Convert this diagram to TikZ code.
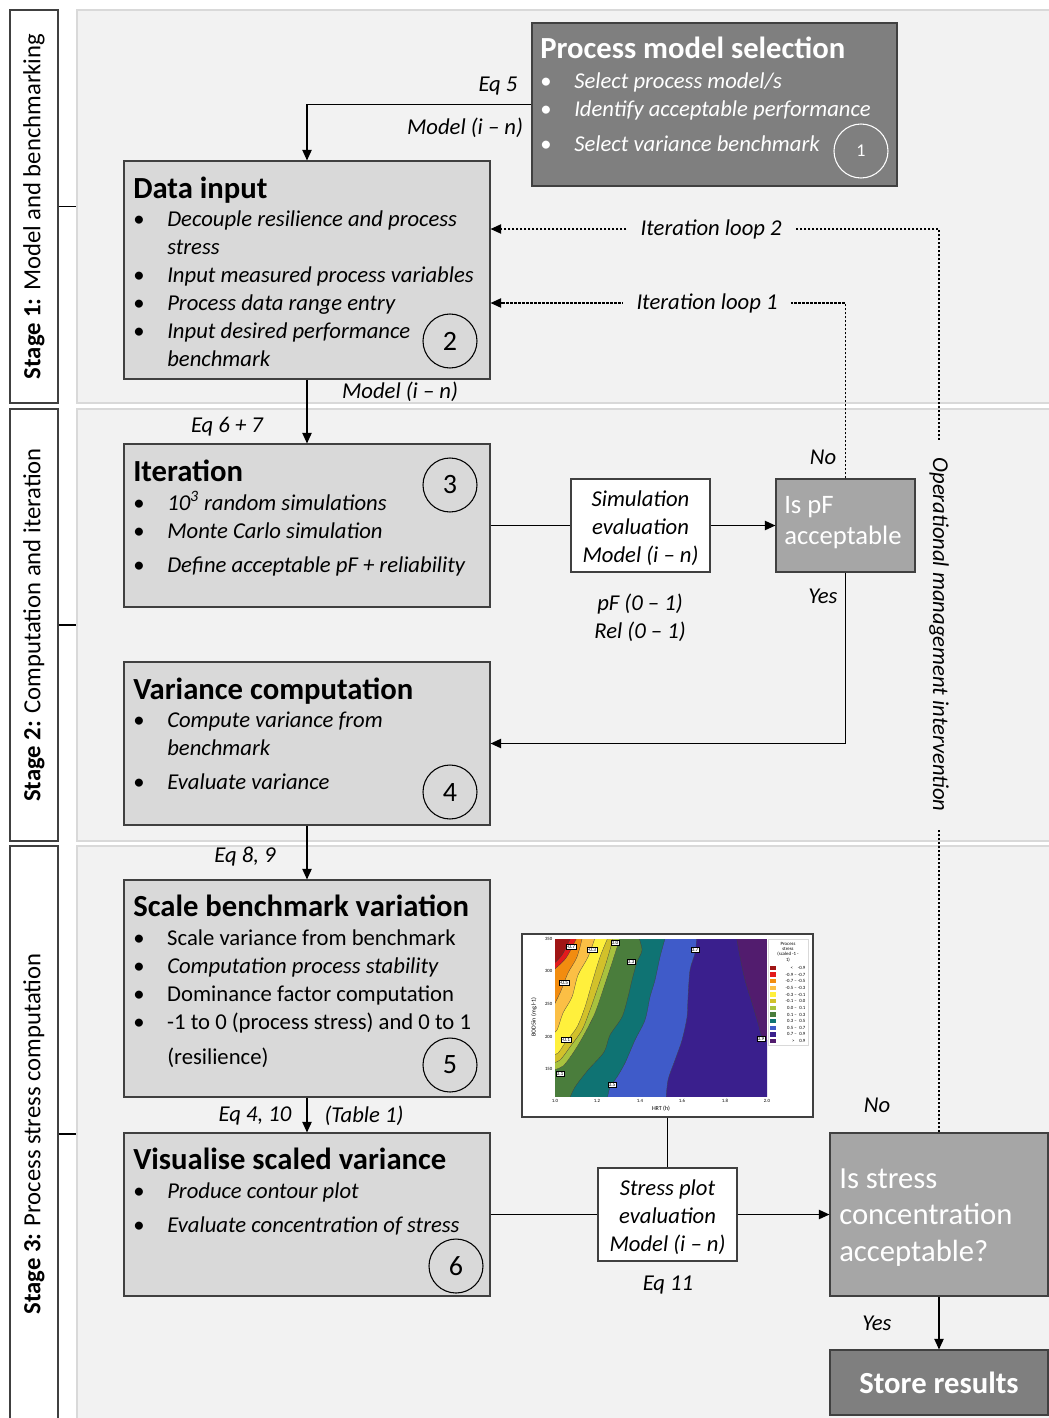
\documentclass[tikz,border=0pt]{standalone}
\usepackage{fontspec}
\setmainfont{Carlito}
\usetikzlibrary{arrows.meta,fit}

\definecolor{cPanel}{HTML}{F2F2F2}
\definecolor{cPanelLine}{HTML}{D9D9D9}
\definecolor{cBox}{HTML}{D9D9D9}
\definecolor{cLine}{HTML}{404040}
\definecolor{cDark}{HTML}{7F7F7F}
\definecolor{cMid}{HTML}{A6A6A6}
% contour plot colours
\definecolor{cDarkRed}{HTML}{A01515}
\definecolor{cRed}{HTML}{E31A1C}
\definecolor{cOrange}{HTML}{F28C0F}
\definecolor{cLtOrange}{HTML}{FBBF45}
\definecolor{cYellow}{HTML}{FFF03C}
\definecolor{cOlive}{HTML}{D2C12A}
\definecolor{cLtGreen}{HTML}{A8C23E}
\definecolor{cDkGreen}{HTML}{4A7D3C}
\definecolor{cTeal}{HTML}{0F7373}
\definecolor{cBlue}{HTML}{3F5BC9}
\definecolor{cIndigo}{HTML}{3A1F8D}
\definecolor{cPurple}{HTML}{521C6E}

\newcommand{\tlines}[1]{\begin{tabular}[t]{@{}l@{}}#1\end{tabular}}
\newcommand{\blist}[1]{\begin{tabular}[t]{@{}p{25.5pt}@{}l@{}}#1\end{tabular}}

\tikzset{
  panel/.style={draw=cPanelLine, fill=cPanel, line width=0.8pt, inner sep=0pt},
  stagebox/.style={draw=cLine, fill=white, line width=0.8pt, inner sep=0pt},
  stagetext/.style={rotate=90, inner sep=0pt, font=\fontsize{18.5}{22}\selectfont},
  procbox/.style={draw=cLine, fill=cBox, line width=0.8pt, inner sep=0pt},
  pmsbox/.style={procbox, fill=cDark},
  querybox/.style={procbox, fill=cMid},
  evalbox/.style={procbox, fill=white},
  evaltext/.style={inner sep=0pt, align=center, font=\fontsize{17}{21}\selectfont\itshape},
  storebox/.style={procbox, fill=cDark},
  storetext/.style={inner sep=0pt, text=white, font=\fontsize{23}{27}\selectfont\bfseries},
  headtext/.style={anchor=base west, inner sep=0pt, font=\fontsize{23}{27}\selectfont\bfseries},
  listtext/.style={anchor=base west, inner sep=0pt, font=\fontsize{17}{21}\selectfont},
  querytext/.style={anchor=base west, inner sep=0pt, text=white},
  lbl/.style={inner sep=0pt, font=\fontsize{17}{21}\selectfont\itshape},
  numcircle/.style={circle, draw=black, line width=0.8pt, minimum size=40.5pt, inner sep=0pt, font=\fontsize{21}{21}\selectfont},
  flow/.style={line width=1.1pt},
  loopline/.style={line width=1.1pt, dash pattern=on 2pt off 1pt},
  looplabel/.style={lbl, fill=cPanel, inner xsep=10pt, inner ysep=2pt},
  plotframe/.style={draw=cLine, fill=white, line width=0.8pt, inner sep=0pt},
  band/.style={fill=#1, draw=black!75, line width=0.2pt},
  tinytext/.style={inner sep=0.3pt, font=\fontsize{3.6}{4}\selectfont},
  clabel/.style={draw=black, fill=white, line width=0.2pt, inner sep=0.5pt, font=\fontsize{4}{4.5}\selectfont},
}

\begin{document}
\begin{tikzpicture}[x=0.75pt, y=-0.75pt, >={Triangle[length=8pt,width=7pt]}]
\useasboundingbox (0,0) rectangle (1049,1418);
\fill[white] (0,0) rectangle (1049,1418);

% stage panels and labels
\node[panel, fit={(77,10)(1052,403)}] (panel1) {};
\node[panel, fit={(77,409)(1052,841)}] (panel2) {};
\node[panel, fit={(77,846)(1052,1422)}] (panel3) {};
\node[stagebox, fit={(10,10)(58,403)}] (stage1) {};
\node[stagebox, fit={(10,409)(58,841)}] (stage2) {};
\node[stagebox, fit={(10,846)(58,1422)}] (stage3) {};
\node[stagetext] (stage1text) at (stage1) {\textbf{Stage 1:} Model and benchmarking};
\node[stagetext] (stage2text) at (stage2) {\textbf{Stage 2:} Computation and iteration};
\node[stagetext] (stage3text) at (stage3) {\textbf{Stage 3:} Process stress computation};
\draw[line width=0.8pt] (stage1.east) -- (panel1.west);
\draw[line width=0.8pt] (stage2.east) -- (panel2.west);
\draw[line width=0.8pt] (stage3.east) -- (panel3.west);

% process model selection
\node[pmsbox, fit={(532,23)(897,186)}] (pms) {};
\node[headtext, text=white] (pmstitle) at (540,58) {Process model selection};
\node[listtext, text=white] (pmslist) at (540,88) {\blist{%
  \textbullet & \textit{Select process model/s}\\
  \textbullet & \textit{Identify acceptable performance}\\[5.25pt]
  \textbullet & \textit{Select variance benchmark}}};
\node[numcircle, draw=white, text=white, font=\fontsize{13.5}{13.5}\selectfont] (num1) at (861,151) {1};

% data input
\node[procbox, fit={(124,161)(490,379)}] (datain) {};
\node[headtext] (dataintitle) at (133,198) {Data input};
\node[listtext] (datainlist) at (133,226) {\blist{%
  \textbullet & \textit{Decouple resilience and process}\\
   & \textit{stress}\\
  \textbullet & \textit{Input measured process variables}\\
  \textbullet & \textit{Process data range entry}\\
  \textbullet & \textit{Input desired performance}\\
   & \textit{benchmark}}};
\node[numcircle] (num2) at (450,341) {2};

% iteration
\node[procbox, fit={(124,444)(490,607)}] (iter) {};
\node[headtext] (itertitle) at (133,481) {Iteration};
\node[listtext] (iterlist) at (133,510) {\blist{%
  \textbullet & \textit{10\textsuperscript{3} random simulations}\\
  \textbullet & \textit{Monte Carlo simulation}\\[4.5pt]
  \textbullet & \textit{Define acceptable pF + reliability}}};
\node[numcircle] (num3) at (450,485) {3};

% variance computation
\node[procbox, fit={(124,662)(490,825)}] (variance) {};
\node[headtext] (variancetitle) at (133,699) {Variance computation};
\node[listtext] (variancelist) at (133,727) {\blist{%
  \textbullet & \textit{Compute variance from}\\
   & \textit{benchmark}\\[4.5pt]
  \textbullet & \textit{Evaluate variance}}};
\node[numcircle] (num4) at (450,792) {4};

% scale benchmark variation
\node[procbox, fit={(124,880)(490,1097)}] (scale) {};
\node[headtext] (scaletitle) at (133,916) {Scale benchmark variation};
\node[listtext] (scalelist) at (133,945) {\blist{%
  \textbullet & Scale variance from benchmark\\
  \textbullet & \textit{Computation process stability}\\
  \textbullet & Dominance factor computation\\
  \textbullet & -1 to 0 (process stress) and 0 to 1\\[5.25pt]
   & (resilience)}};
\node[numcircle] (num5) at (450,1065) {5};

% visualise scaled variance
\node[procbox, fit={(124,1133)(490,1296)}] (visual) {};
\node[headtext] (visualtitle) at (133,1169) {Visualise scaled variance};
\node[listtext] (visuallist) at (133,1198) {\blist{%
  \textbullet & \textit{Produce contour plot}\\[4.5pt]
  \textbullet & \textit{Evaluate concentration of stress}}};
\node[numcircle] (num6) at (456,1266) {6};

% evaluation and decision boxes
\node[evalbox, fit={(571,479)(710,572)}] (simeval) {};
\node[evaltext] (simevaltext) at ([yshift=-2pt]simeval.center) {Simulation\\evaluation\\Model (i -- n)};
\node[querybox, fit={(776,479)(915,572)}] (pfq) {};
\node[querytext, font=\fontsize{20}{23.25}\selectfont] (pfqtext) at (784,513) {\tlines{Is pF\\acceptable}};
\node[evalbox, fit={(598,1168)(737,1261)}] (stresseval) {};
\node[evaltext] (stressevaltext) at ([yshift=-2pt]stresseval.center) {Stress plot\\evaluation\\Model (i -- n)};
\node[querybox, fit={(830,1133)(1048,1296)}] (stressq) {};
\node[querytext, font=\fontsize{23}{27.4}\selectfont] (stressqtext) at (839,1188) {\tlines{Is stress\\concentration\\acceptable?}};
\node[storebox, fit={(830,1350)(1048,1415)}] (store) {};
\node[storetext] (storetextnode) at (store) {Store results};

% contour plot
\node[plotframe, fit={(522,934)(813,1117)}] (contour) {};
\begin{scope}
  \clip (555,939) rectangle (767,1096);
  \fill[cPurple] (555,939) rectangle (767,1096);
  \filldraw[band=cIndigo] plot[smooth] coordinates {(736,935) (740,957) (745,980) (752,1003) (758,1023) (762,1036) (772,1043)} -- (772,1100) -- (550,1100) -- (550,935) -- cycle;
  \filldraw[band=cBlue] plot[smooth] coordinates {(697,935) (695,953) (690,970) (688,997) (687,1017) (682,1040) (675,1060) (668,1080) (666,1100)} -- (550,1100) -- (550,935) -- cycle;
  \filldraw[band=cTeal] plot[smooth] coordinates {(666,935) (660,957) (655,980) (650,997) (645,1020) (635,1040) (625,1063) (617,1077) (610,1087) (607,1100)} -- (550,1100) -- (550,935) -- cycle;
  \filldraw[band=cDkGreen] plot[smooth] coordinates {(638,935) (642,950) (637,962) (632,980) (628,997) (622,1017) (610,1035) (604,1052) (588,1070) (575,1087) (569,1100)} -- (550,1100) -- (550,935) -- cycle;
  \filldraw[band=cLtGreen] plot[smooth] coordinates {(621,935) (612,963) (602,993) (595,1013) (585,1033) (575,1050) (563,1066) (550,1071)} -- (550,935) -- cycle;
  \filldraw[band=cOlive] plot[smooth] coordinates {(614,935) (607,960) (598,987) (590,1010) (582,1030) (570,1047) (560,1060) (550,1064)} -- (550,935) -- cycle;
  \filldraw[band=cYellow] plot[smooth] coordinates {(609,935) (600,957) (592,983) (585,1007) (577,1027) (565,1043) (558,1053) (550,1056)} -- (550,935) -- cycle;
  \filldraw[band=cLtOrange] plot[smooth] coordinates {(596,935) (588,957) (578,975) (572,997) (563,1013) (557,1030) (550,1035)} -- (550,935) -- cycle;
  \filldraw[band=cOrange] plot[smooth] coordinates {(583,935) (577,957) (568,973) (560,993) (550,1013)} -- (550,935) -- cycle;
  \filldraw[band=cRed] plot[smooth] coordinates {(578,935) (566,958) (550,973)} -- (550,935) -- cycle;
  \filldraw[band=cDarkRed] plot[smooth] coordinates {(572,935) (562,955) (550,967)} -- (550,935) -- cycle;
\end{scope}
\node[clabel] (lm07) at (571,947) {-0.7};
\node[clabel] (lm03) at (592,950) {-0.3};
\node[clabel] (l00) at (615,943) {0.0};
\node[clabel] (l03) at (631,962) {0.3};
\node[clabel] (lm05) at (564,983) {-0.5};
\node[clabel] (lm01) at (566,1040) {-0.1};
\node[clabel] (l01) at (560,1074) {0.1};
\node[clabel] (l05) at (612,1085) {0.5};
\node[clabel] (l07) at (695,950) {0.7};
\node[clabel] (l09) at (761,1039) {0.9};
\foreach \v/\y [count=\i] in {350/939, 300/971, 250/1004, 200/1037, 150/1069}
  \node[tinytext, anchor=east] (ytick\i) at (553,\y) {\v};
\foreach \v/\x [count=\i] in {1.0/555, 1.2/597, 1.4/640, 1.6/682, 1.8/725, 2.0/767}
  \node[tinytext] (xtick\i) at (\x,1101) {\v};
\node[tinytext, font=\fontsize{4.5}{5}\selectfont] (xaxis) at (661,1109) {HRT (h)};
\node[tinytext, rotate=90, font=\fontsize{4.5}{5}\selectfont] (yaxis) at (534,1017) {BOD5in (mg.l-1)};
\node[draw=cPanelLine, fill=white, line width=0.3pt, inner sep=0pt, fit={(768,939)(808,1045)}] (legend) {};
\node[tinytext, align=center] (legendtitle) at (788,952) {Process\\stress\\(scaled -1 -\\1)};
\foreach \c/\t [count=\i] in {cDarkRed/{<\quad -0.9}, cRed/{-0.9 -- -0.7}, cOrange/{-0.7 -- -0.5}, cLtOrange/{-0.5 -- -0.3}, cYellow/{-0.3 -- -0.1}, cOlive/{-0.1 -- \phantom{-}0.0}, cLtGreen/{0.0 -- \phantom{-}0.1}, cDkGreen/{0.1 -- \phantom{-}0.3}, cTeal/{0.3 -- \phantom{-}0.5}, cBlue/{0.5 -- \phantom{-}0.7}, cIndigo/{0.7 -- \phantom{-}0.9}, cPurple/{>\quad 0.9}} {
  \fill[\c] (770,{968+(\i-1)*6.64-2.2}) rectangle (775.5,{968+(\i-1)*6.64+2.2});
  \node[tinytext, anchor=east] (leg\i) at (806,{968+(\i-1)*6.64}) {\t};
}

% main flow
\draw[flow,->] (pms.west) -| (datain.north);
\draw[flow,->] (datain.south) -- (iter.north);
\draw[flow] (iter.east) -- (simeval.west);
\draw[flow,->] (simeval.east) -- (pfq.west);
\draw[flow,->] (pfq.south) |- (variance.east);
\draw[flow,->] (variance.south) -- (scale.north);
\draw[flow,->] (scale.south) -- (visual.north);
\draw[flow] (visual.east) -- (stresseval.west);
\draw[flow] (contour.south) -- (stresseval.north);
\draw[flow,->] (stresseval.east) -- (stressq.west);
\draw[flow,->] (stressq.south) -- (store.north);

% iteration loops
\coordinate (loop1turn) at (pfq.north |- 0,303);
\coordinate (loop2turn) at (stressq.north |- 0,229);
\draw[loopline,->] (pfq.north) -- (loop1turn) -- node[looplabel, pos=0.39] (loop1) {Iteration loop 1} (datain.east |- loop1turn);
\draw[loopline,->] (stressq.north) -- node[looplabel, rotate=-90, pos=0.551, inner xsep=13pt] (opint) {Operational management intervention} (loop2turn) -- node[looplabel, pos=0.508] (loop2) {Iteration loop 2} (datain.east |- loop2turn);

% connector labels
\node[lbl] (eq5) at (498,86) {Eq 5};
\node[lbl] (modeltop) at (465,128) {Model (i -- n)};
\node[lbl] (modelmid) at (400,392) {Model (i -- n)};
\node[lbl] (eq67) at (227,427) {Eq 6 + 7};
\node[lbl] (no1) at (823,457) {No};
\node[lbl] (yes1) at (823,596) {Yes};
\node[lbl, align=center] (pfrange) at (640,618) {pF (0 -- 1)\\Rel (0 -- 1)};
\node[lbl] (eq89) at (245,857) {Eq 8, 9};
\node[lbl] (eq410) at (255,1116) {Eq 4, 10};
\node[lbl] (table1) at (364,1116) {(Table 1)};
\node[lbl] (no2) at (877,1105) {No};
\node[lbl] (eq11) at (668,1285) {Eq 11};
\node[lbl] (yes2) at (877,1323) {Yes};
\end{tikzpicture}
\end{document}
